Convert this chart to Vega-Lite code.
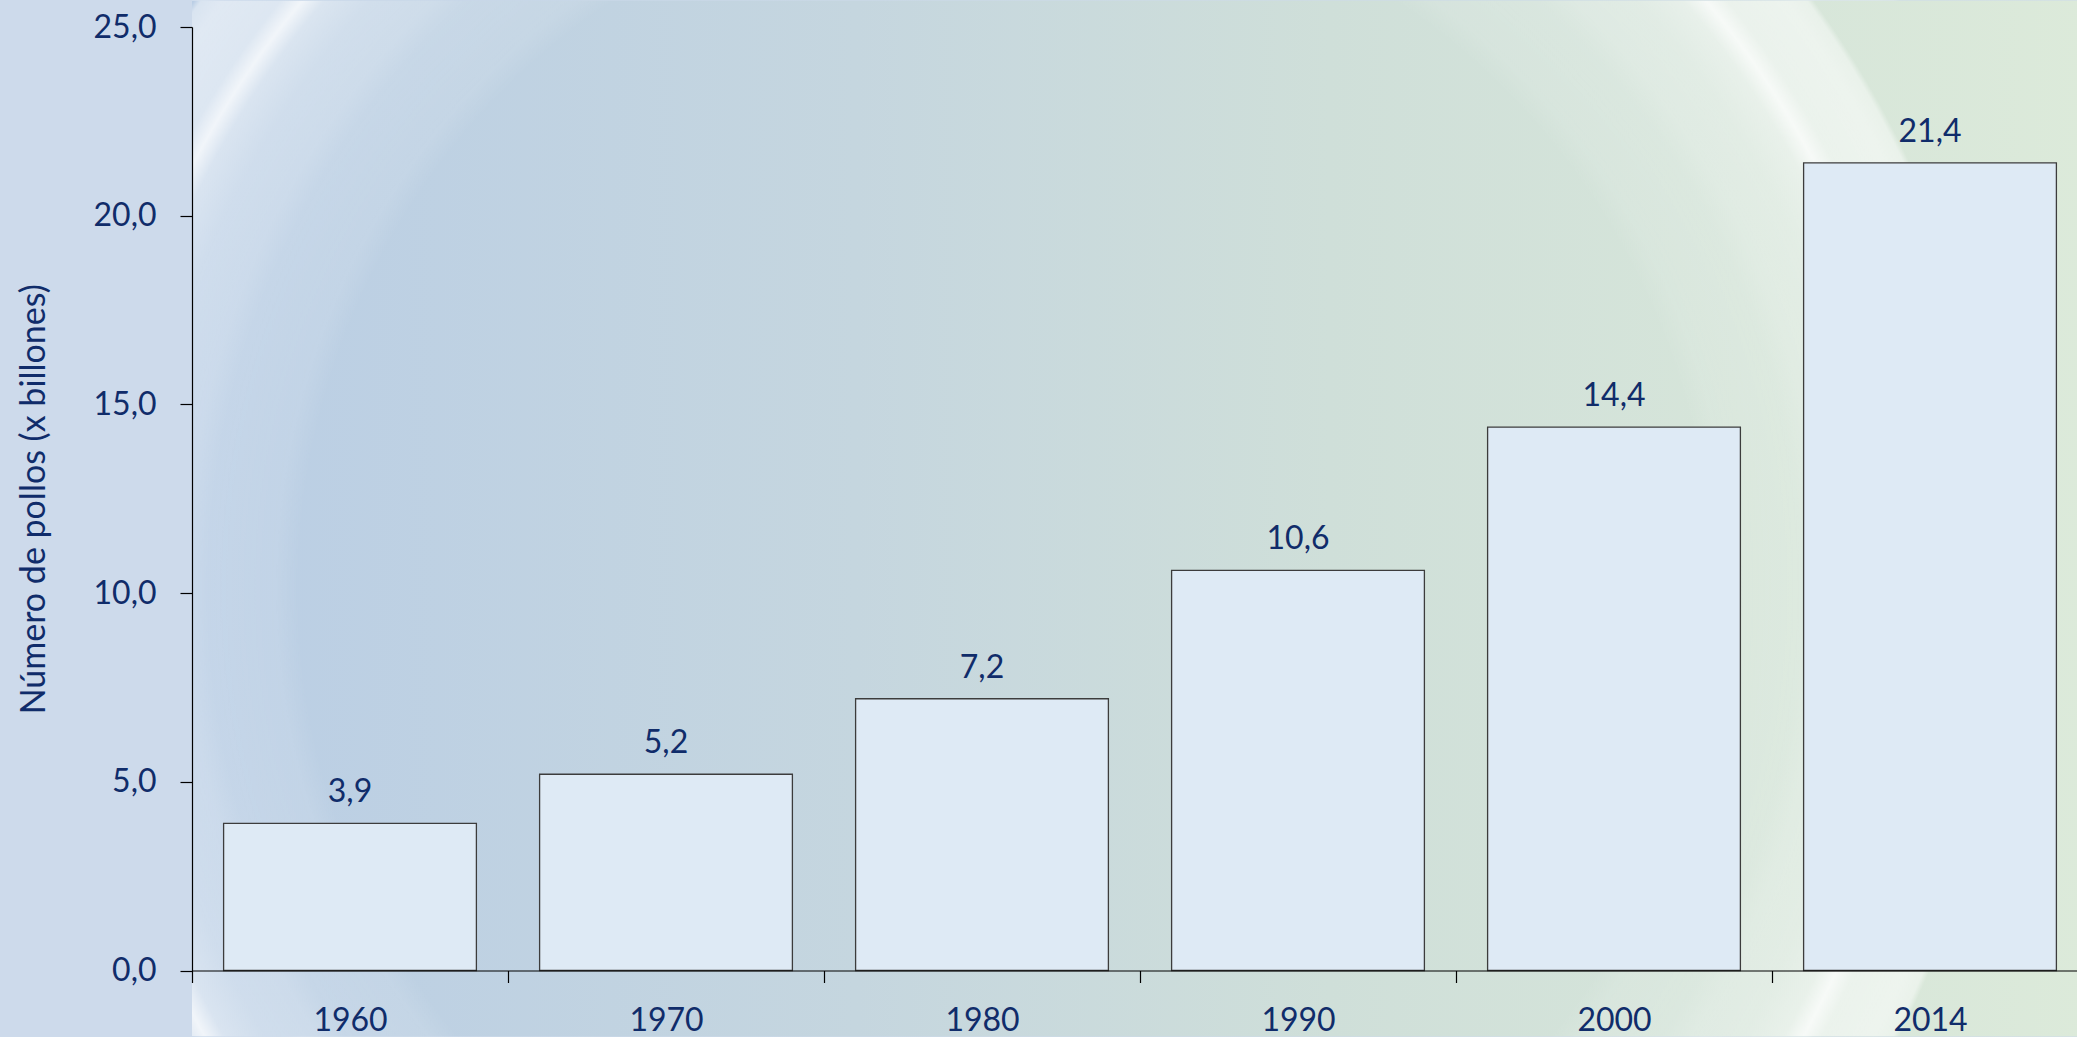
{
  "$schema": "https://vega.github.io/schema/vega-lite/v6.json",
  "width": 1896,
  "height": 943.5,
  "autosize": "none",
  "padding": {"left": 192, "top": 27, "right": 0, "bottom": 67},
  "background": "#cddaeb",
  "config": {
    "view": {"stroke": null},
    "font": "Lato",
    "locale": {"number": {"decimal": ",", "thousands": ".", "grouping": [3], "currency": ["", " €"]}}
  },
  "datasets": {
    "pollos": [
      {"anio": "1960", "valor": 3.9},
      {"anio": "1970", "valor": 5.2},
      {"anio": "1980", "valor": 7.2},
      {"anio": "1990", "valor": 10.6},
      {"anio": "2000", "valor": 14.4},
      {"anio": "2014", "valor": 21.4}
    ],
    "fondo": [{"y0": -1.75, "y1": 25.7}]
  },
  "layer": [
    {
      "data": {"name": "fondo"},
      "mark": {
        "type": "rect",
        "fill": {
          "gradient": "linear",
          "x1": 0, "y1": 0.5, "x2": 1, "y2": 0.5,
          "stops": [
            {"offset": 0, "color": "#bacee5"},
            {"offset": 0.35, "color": "#c5d6df"},
            {"offset": 0.6, "color": "#cfdfd9"},
            {"offset": 1, "color": "#dceada"}
          ]
        }
      },
      "encoding": {
        "y": {"field": "y0", "type": "quantitative", "scale": {"domain": [0, 25], "nice": false, "zero": true}},
        "y2": {"field": "y1"}
      }
    },
    {
      "data": {"name": "fondo"},
      "mark": {
        "type": "rect",
        "fill": {
          "gradient": "radial",
          "x1": 0.4283, "y1": 0.5372, "r1": 0,
          "x2": 0.4283, "y2": 0.5372, "r2": 0.6,
          "stops": [
            {"offset": 0, "color": "rgba(255,255,255,0)"},
            {"offset": 0.62, "color": "rgba(255,255,255,0)"},
            {"offset": 0.64, "color": "rgba(255,255,255,0.1)"},
            {"offset": 0.7, "color": "rgba(255,255,255,0.15)"},
            {"offset": 0.72, "color": "rgba(255,255,255,0.25)"},
            {"offset": 0.76, "color": "rgba(255,255,255,0.3)"},
            {"offset": 0.79, "color": "rgba(255,255,255,0.45)"},
            {"offset": 0.805, "color": "rgba(255,255,255,0.8)"},
            {"offset": 0.82, "color": "rgba(255,255,255,0.5)"},
            {"offset": 0.86, "color": "rgba(255,255,255,0.55)"},
            {"offset": 0.875, "color": "rgba(255,255,255,0.45)"},
            {"offset": 0.88, "color": "rgba(255,255,255,0)"},
            {"offset": 1, "color": "rgba(255,255,255,0)"}
          ]
        }
      },
      "encoding": {
        "y": {"field": "y0", "type": "quantitative"},
        "y2": {"field": "y1"}
      }
    },
    {
      "data": {"name": "pollos"},
      "mark": {"type": "bar", "fill": "#deeaf5", "stroke": "#3c3c3c", "strokeWidth": 1.3},
      "encoding": {
        "x": {
          "field": "anio", "type": "nominal", "sort": null,
          "scale": {"paddingInner": 0.2, "paddingOuter": 0.1},
          "axis": {
            "zindex": 2,
            "title": null,
            "tickOffset": -158,
            "labelOffset": 158,
            "domainColor": "#000000",
            "domainWidth": 1.2,
            "tickColor": "#000000",
            "tickSize": 12,
            "tickWidth": 1.2,
            "labelAngle": 0,
            "labelFont": "Lato",
            "labelFontSize": 32,
            "labelColor": "#102c6a",
            "labelPadding": 23,
            "labelBaseline": "top"
          }
        },
        "y": {
          "field": "valor", "type": "quantitative",
          "axis": {
            "zindex": 2,
            "values": [0, 5, 10, 15, 20, 25],
            "format": ".1f",
            "labelExpr": "replace(datum.label, '.', ',')",
            "grid": false,
            "domainColor": "#000000",
            "domainWidth": 1.2,
            "tickColor": "#000000",
            "tickSize": 12,
            "tickWidth": 1.2,
            "labelFont": "Lato",
            "labelFontSize": 32,
            "labelColor": "#102c6a",
            "labelPadding": 24,
            "title": "Número de pollos (x billones)",
            "titleFont": "Lato",
            "titleFontSize": 34,
            "titleFontWeight": "normal",
            "titleColor": "#102c6a",
            "titleAngle": -90,
            "titleX": -148,
            "titleY": 471.75,
            "titleAlign": "center",
            "titleBaseline": "alphabetic"
          }
        }
      }
    },
    {
      "data": {"name": "pollos"},
      "mark": {"type": "text", "font": "Lato", "fontSize": 32, "color": "#102c6a", "baseline": "alphabetic", "dy": -21},
      "encoding": {
        "x": {"field": "anio", "type": "nominal", "sort": null},
        "y": {"field": "valor", "type": "quantitative"},
        "text": {"field": "valor", "type": "quantitative", "format": ".1f"}
      }
    }
  ]
}
